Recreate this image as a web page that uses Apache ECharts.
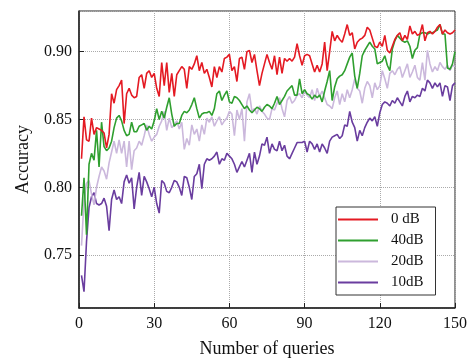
<!DOCTYPE html>
<html>
<head>
<meta charset="utf-8">
<script src="https://cdn.jsdelivr.net/npm/echarts@6/dist/echarts.min.js"></script>
<style>
  html, body { margin: 0; padding: 0; background: #fff; }
  #chart { width: 474px; height: 363px; }
</style>
</head>
<body>
<div id="chart"></div>
<script>
// number of queries, 1..150
const queries = Array.from({ length: 150 }, (_, i) => i + 1);

const names = ["0 dB", "40dB", "20dB", "10dB"];
const colors = ["#e41a23", "#2f9f2f", "#cbb8dc", "#6a3d9f"];

const acc0dB = [
  0.821, 0.852, 0.835, 0.834, 0.851, 0.839, 0.844, 0.843, 0.842, 0.840,
  0.829, 0.839, 0.869, 0.862, 0.872, 0.875, 0.879, 0.847, 0.869, 0.873,
  0.868, 0.866, 0.867, 0.881, 0.883, 0.873, 0.884, 0.886, 0.881, 0.884,
  0.873, 0.867, 0.892, 0.875, 0.892, 0.870, 0.884, 0.867, 0.883, 0.886,
  0.889, 0.887, 0.873, 0.889, 0.887, 0.891, 0.897, 0.886, 0.892, 0.884,
  0.887, 0.881, 0.874, 0.889, 0.881, 0.889, 0.885, 0.895, 0.896, 0.898,
  0.886, 0.889, 0.878, 0.895, 0.896, 0.887, 0.900, 0.901, 0.892, 0.898,
  0.886, 0.875, 0.884, 0.891, 0.898, 0.892, 0.887, 0.897, 0.883, 0.896,
  0.884, 0.895, 0.893, 0.895, 0.893, 0.896, 0.906, 0.897, 0.890, 0.897,
  0.898, 0.897, 0.891, 0.885, 0.890, 0.885, 0.891, 0.907, 0.886, 0.900,
  0.915, 0.908, 0.912, 0.909, 0.907, 0.913, 0.920, 0.912, 0.914, 0.902,
  0.907, 0.909, 0.910, 0.912, 0.918, 0.916, 0.910, 0.904, 0.903, 0.907,
  0.904, 0.912, 0.901, 0.899, 0.904, 0.909, 0.912, 0.914, 0.908, 0.912,
  0.909, 0.919, 0.913, 0.915, 0.912, 0.913, 0.920, 0.908, 0.914, 0.915,
  0.913, 0.915, 0.918, 0.920, 0.913, 0.916, 0.914, 0.913, 0.914, 0.916
];

const acc40dB = [
  0.779, 0.807, 0.765, 0.817, 0.825, 0.820, 0.842, 0.815, 0.848, 0.830,
  0.827, 0.829, 0.834, 0.844, 0.851, 0.853, 0.849, 0.842, 0.838, 0.839,
  0.848, 0.841, 0.841, 0.845, 0.846, 0.847, 0.842, 0.845, 0.843, 0.849,
  0.858, 0.850, 0.856, 0.851, 0.859, 0.866, 0.854, 0.845, 0.847, 0.847,
  0.853, 0.856, 0.855, 0.857, 0.861, 0.866, 0.858, 0.851, 0.854, 0.855,
  0.855, 0.856, 0.853, 0.858, 0.869, 0.871, 0.864, 0.868, 0.871, 0.863,
  0.862, 0.867, 0.866, 0.864, 0.861, 0.858, 0.860, 0.857, 0.855, 0.857,
  0.859, 0.858, 0.856, 0.859, 0.861, 0.860, 0.858, 0.862, 0.867, 0.861,
  0.864, 0.867, 0.871, 0.873, 0.875, 0.868, 0.868, 0.880, 0.869, 0.872,
  0.869, 0.868, 0.865, 0.868, 0.866, 0.868, 0.863, 0.871, 0.878, 0.886,
  0.864, 0.874, 0.880, 0.882, 0.883, 0.886, 0.891, 0.896, 0.899, 0.882,
  0.873, 0.884, 0.897, 0.901, 0.904, 0.907, 0.904, 0.902, 0.891, 0.892,
  0.893, 0.897, 0.890, 0.886, 0.902, 0.908, 0.912, 0.910, 0.908, 0.907,
  0.908, 0.904, 0.895, 0.901, 0.903, 0.913, 0.914, 0.914, 0.913, 0.914,
  0.914, 0.915, 0.916, 0.920, 0.913, 0.913, 0.888, 0.887, 0.891, 0.900
];

const acc20dB = [
  0.757, 0.790, 0.803, 0.805, 0.795, 0.787, 0.800, 0.808, 0.815, 0.812,
  0.806, 0.818, 0.826, 0.834, 0.825, 0.835, 0.825, 0.834, 0.815, 0.834,
  0.813, 0.827, 0.829, 0.834, 0.831, 0.838, 0.846, 0.839, 0.834, 0.837,
  0.839, 0.845, 0.849, 0.856, 0.842, 0.851, 0.844, 0.846, 0.849, 0.843,
  0.848, 0.828, 0.836, 0.831, 0.846, 0.839, 0.843, 0.834, 0.846, 0.839,
  0.851, 0.848, 0.852, 0.845, 0.849, 0.852, 0.846, 0.849, 0.851, 0.856,
  0.854, 0.838, 0.857, 0.850, 0.858, 0.834, 0.863, 0.869, 0.856, 0.858,
  0.854, 0.860, 0.856, 0.854, 0.851, 0.850, 0.858, 0.857, 0.862, 0.866,
  0.858, 0.852, 0.864, 0.867, 0.862, 0.864, 0.868, 0.869, 0.866, 0.871,
  0.868, 0.866, 0.872, 0.864, 0.873, 0.867, 0.871, 0.866, 0.861, 0.860,
  0.858, 0.866, 0.871, 0.861, 0.869, 0.863, 0.872, 0.866, 0.872, 0.880,
  0.873, 0.871, 0.862, 0.873, 0.878, 0.875, 0.866, 0.877, 0.872, 0.875,
  0.886, 0.880, 0.873, 0.884, 0.886, 0.883, 0.887, 0.889, 0.881, 0.886,
  0.891, 0.881, 0.885, 0.890, 0.881, 0.879, 0.892, 0.879, 0.901, 0.891,
  0.885, 0.889, 0.886, 0.892, 0.889, 0.887, 0.890, 0.886, 0.890, 0.889
];

const acc10dB = [
  0.735, 0.723, 0.760, 0.785, 0.793, 0.796, 0.788, 0.787, 0.788, 0.792,
  0.786, 0.768, 0.791, 0.798, 0.791, 0.793, 0.788, 0.804, 0.809, 0.803,
  0.807, 0.784, 0.800, 0.811, 0.794, 0.808, 0.804, 0.799, 0.793, 0.800,
  0.788, 0.781, 0.805, 0.803, 0.797, 0.796, 0.800, 0.805, 0.804, 0.800,
  0.794, 0.808, 0.807, 0.800, 0.791, 0.808, 0.810, 0.817, 0.799, 0.817,
  0.821, 0.820, 0.821, 0.823, 0.826, 0.817, 0.821, 0.820, 0.825, 0.823,
  0.821, 0.817, 0.811, 0.815, 0.819, 0.815, 0.820, 0.825, 0.811, 0.826,
  0.817, 0.823, 0.832, 0.831, 0.837, 0.825, 0.832, 0.828, 0.827, 0.834,
  0.827, 0.831, 0.823, 0.821, 0.825, 0.829, 0.833, 0.833, 0.833, 0.834,
  0.826, 0.834, 0.832, 0.828, 0.832, 0.826, 0.832, 0.829, 0.825, 0.834,
  0.837, 0.838, 0.839, 0.836, 0.838, 0.846, 0.845, 0.856, 0.848, 0.844,
  0.834, 0.842, 0.838, 0.844, 0.848, 0.851, 0.849, 0.852, 0.845, 0.855,
  0.861, 0.863, 0.862, 0.860, 0.864, 0.862, 0.866, 0.863, 0.860, 0.867,
  0.871, 0.863, 0.867, 0.866, 0.868, 0.867, 0.873, 0.871, 0.879, 0.877,
  0.873, 0.877, 0.874, 0.877, 0.867, 0.875, 0.874, 0.864, 0.875, 0.877
];

const xTicks = [0, 30, 60, 90, 120, 150];

const font = "'Liberation Serif', 'DejaVu Serif', serif";
const allData = [acc0dB, acc40dB, acc20dB, acc10dB];

const chart = echarts.init(document.getElementById("chart"), null, { renderer: "canvas" });

const series = allData.map((vals, i) => ({
  name: names[i],
  type: "line",
  symbol: "none",
  showSymbol: false,
  z: 10 - i,
  lineStyle: { color: colors[i], width: 1.6 },
  itemStyle: { color: colors[i] },
  data: queries.map((q, k) => [q, vals[k]])
}));

chart.setOption({
  animation: false,
  backgroundColor: "#fff",
  grid: {
    left: 79, right: 19, top: 11, bottom: 50,
    show: true, borderColor: "#222", borderWidth: 1
  },
  legend: {
    data: names,
    orient: "vertical",
    left: 336,
    top: 207,
    backgroundColor: "#fff",
    borderColor: "#333",
    borderWidth: 1,
    borderRadius: 0,
    padding: [5, 12, 5, 2],
    itemWidth: 40,
    itemHeight: 2,
    itemGap: 6,
    icon: "rect",
    textStyle: { fontFamily: font, fontSize: 15, color: "#111", lineHeight: 15, padding: [0, 0, 0, 8] }
  },
  xAxis: {
    type: "value",
    min: xTicks[0],
    max: xTicks[xTicks.length - 1],
    interval: 30,
    name: "Number of queries",
    nameLocation: "middle",
    nameGap: 32,
    nameTextStyle: { fontFamily: font, fontSize: 18, color: "#111" },
    axisLine: { lineStyle: { color: "#222", width: 1.5 } },
    axisTick: { inside: true, length: 5, lineStyle: { color: "#222" } },
    axisLabel: { fontFamily: font, fontSize: 16, color: "#111", margin: 8 },
    splitLine: { show: true, lineStyle: { color: "#aaa", type: "dotted", width: 1 } }
  },
  yAxis: {
    type: "value",
    min: 0.711,
    max: 0.93,
    splitNumber: 5,
    name: "Accuracy",
    nameLocation: "middle",
    nameGap: 47,
    nameTextStyle: { fontFamily: font, fontSize: 18, color: "#111" },
    axisLine: { show: true, lineStyle: { color: "#222", width: 1.5 } },
    axisTick: { show: true, inside: true, length: 5, lineStyle: { color: "#222" } },
    axisLabel: {
      fontFamily: font, fontSize: 16, color: "#111", margin: 7,
      showMinLabel: false, showMaxLabel: false,
      formatter: v => v.toFixed(2)
    },
    splitLine: { show: true, lineStyle: { color: "#aaa", type: "dotted", width: 1 } }
  },
  series: series
});
</script>
</body>
</html>
